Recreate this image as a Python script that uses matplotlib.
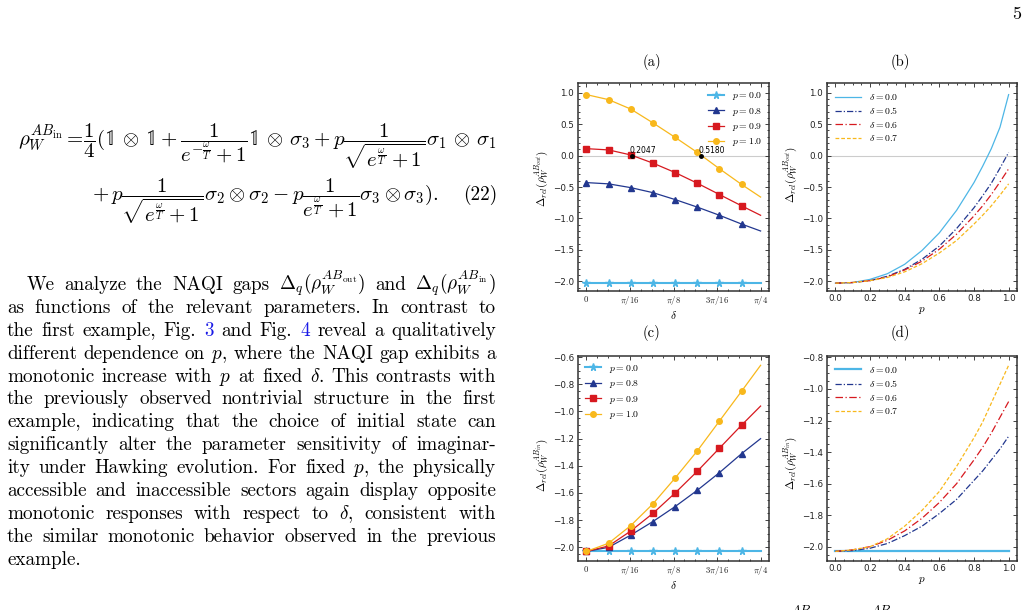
import numpy as np
import matplotlib.pyplot as plt
from matplotlib.ticker import AutoMinorLocator, MultipleLocator

plt.rcParams['mathtext.fontset'] = 'cm'
plt.rcParams['axes.unicode_minus'] = True

W, H = 1029, 610

# ---- data ----
# panels (a),(c): markers at delta = 0..0.7, curves end at pi/4
delta = [0, 0.1, 0.2, 0.3, 0.4, 0.5, 0.6, 0.7, np.pi / 4]
p_names = ['$p=0.0$', '$p=0.8$', '$p=0.9$', '$p=1.0$']

out_p00 = [-2.03] * 9
out_p08 = [-0.43, -0.45, -0.51, -0.59, -0.70, -0.82, -0.95, -1.09, -1.20]
out_p09 = [0.11, 0.09, 0.01, -0.12, -0.27, -0.44, -0.62, -0.80, -0.95]
out_p10 = [0.97, 0.89, 0.74, 0.52, 0.29, 0.05, -0.21, -0.46, -0.66]

in_p00 = [-2.03] * 9
in_p08 = [-2.03, -2.00, -1.91, -1.81, -1.70, -1.58, -1.45, -1.31, -1.20]
in_p09 = [-2.03, -1.99, -1.88, -1.75, -1.60, -1.44, -1.27, -1.10, -0.96]
in_p10 = [-2.03, -1.97, -1.84, -1.68, -1.49, -1.29, -1.07, -0.85, -0.66]

zero_cross = [0.2047, 0.5180]
zero_text = ['0.2047', '0.5180']

# panels (b),(d): curves vs p
p = [0, 0.1, 0.2, 0.3, 0.4, 0.5, 0.6, 0.7, 0.8, 0.85, 0.9, 0.95, 1.0]
d_names = [r'$\delta=0.0$', r'$\delta=0.5$', r'$\delta=0.6$', r'$\delta=0.7$']

out_d00 = [-2.03, -2.02, -1.97, -1.88, -1.73, -1.51, -1.23, -0.87, -0.43, -0.17, 0.11, 0.45, 0.97]
out_d05 = [-2.03, -2.02, -1.99, -1.92, -1.81, -1.65, -1.44, -1.16, -0.83, -0.64, -0.44, -0.20, 0.05]
out_d06 = [-2.03, -2.02, -1.99, -1.93, -1.82, -1.68, -1.49, -1.25, -0.96, -0.80, -0.62, -0.42, -0.21]
out_d07 = [-2.03, -2.02, -1.99, -1.94, -1.85, -1.72, -1.55, -1.35, -1.09, -0.95, -0.80, -0.63, -0.45]

in_d00 = [-2.03] * 13
in_d05 = [-2.03, -2.025, -2.01, -1.98, -1.93, -1.87, -1.79, -1.70, -1.58, -1.52, -1.45, -1.38, -1.30]
in_d06 = [-2.03, -2.02, -2.00, -1.96, -1.90, -1.82, -1.72, -1.60, -1.45, -1.37, -1.28, -1.18, -1.08]
in_d07 = [-2.03, -2.02, -2.00, -1.95, -1.87, -1.77, -1.65, -1.49, -1.31, -1.21, -1.09, -0.97, -0.85]

delta_ticks = [0, np.pi / 16, np.pi / 8, 3 * np.pi / 16, np.pi / 4]
delta_ticklabels = ['$0$', r'$\pi/16$', r'$\pi/8$', r'$3\pi/16$', r'$\pi/4$']

colors = ['#4db6e6', '#22378f', '#d7191f', '#f8b81c']
markers = ['*', '^', 's', 'o']
dstyles = ['-', (0, (5, 1.6, 1, 1.6)), (0, (6, 2, 1, 2)), (0, (3, 1.6))]

fig = plt.figure(figsize=(W / 100, H / 100), dpi=100)
fs = 13.8


def style_ax(ax):
    for s in ax.spines.values():
        s.set_linewidth(1.1)
        s.set_color('#333333')
    ax.tick_params(which='both', direction='in', top=True, right=True,
                   labelsize=6.3, width=0.6, colors='#222222', pad=2.5)
    ax.tick_params(which='major', length=3)
    ax.tick_params(which='minor', length=1.6)
    ax.xaxis.set_minor_locator(AutoMinorLocator())
    ax.yaxis.set_minor_locator(AutoMinorLocator())


def delta_panel(ax, ys, ylab, legloc, ly):
    for y, c, m, lab, i in zip(ys, colors, markers, p_names, range(4)):
        ax.plot(delta, y, color=c, lw=1.5 if i == 0 else 0.9, marker=m,
                ms=5.5 if m == '*' else 4, markevery=list(range(8)), label=lab)
    ax.set_xticks(delta_ticks)
    ax.set_xticklabels(delta_ticklabels, fontsize=5.5)
    ax.set_xlabel(r'$\delta$', fontsize=8, labelpad=1)
    ax.set_ylabel(ylab, fontsize=8)
    ax.yaxis.set_label_coords(-0.14, ly)
    ax.legend(loc=legloc, frameon=False, fontsize=7, handlelength=1.7,
              handletextpad=0.8, labelspacing=0.35, borderaxespad=0.3)
    style_ax(ax)


def p_panel(ax, ys, ylab, ly):
    for y, c, ls, lab, i in zip(ys, colors, dstyles, d_names, range(4)):
        ax.plot(p, y, color=c, ls=ls, lw=1.6 if (i == 0 and ys[0] == in_d00) else 0.9, label=lab)
    ax.xaxis.set_major_locator(MultipleLocator(0.2))
    ax.set_xlabel('$p$', fontsize=8, labelpad=1)
    ax.set_ylabel(ylab, fontsize=8)
    ax.yaxis.set_label_coords(-0.14, ly)
    ax.legend(loc='upper left', frameon=False, fontsize=7, handlelength=2.6,
              handletextpad=0.8, labelspacing=0.35, borderaxespad=0.5)
    style_ax(ax)


lab_out = r'$\Delta_{rel}(\rho_W^{AB_{out}})$'
lab_in = r'$\Delta_{rel}(\rho_W^{AB_{in}})$'

ax_a = fig.add_axes([577.7 / W, 1 - 290.7 / H, 191.6 / W, 207.4 / H])
ax_a.axhline(0, color='#cccccc', lw=0.8, zorder=0)
delta_panel(ax_a, [out_p00, out_p08, out_p09, out_p10], lab_out, 'upper right', 0.54)
ax_a.plot(zero_cross, [0, 0], 'o', color='black', ms=2.5, zorder=5)
for xc, t in zip(zero_cross, zero_text):
    ax_a.text(xc - 0.012, 0.015, t, fontsize=5.5, ha='left', va='bottom')
ax_a.set_ylim(-2.15, 1.15)
ax_a.yaxis.set_major_locator(MultipleLocator(0.5))

ax_b = fig.add_axes([826.7 / W, 1 - 290.7 / H, 190.6 / W, 207.4 / H])
ax_b.axhline(0, color='#cccccc', lw=0.8, zorder=0)
p_panel(ax_b, [out_d00, out_d05, out_d06, out_d07], lab_out, 0.56)
ax_b.set_ylim(-2.15, 1.15)
ax_b.yaxis.set_major_locator(MultipleLocator(0.5))

ax_c = fig.add_axes([577.7 / W, 1 - 560.7 / H, 191.6 / W, 204.7 / H])
delta_panel(ax_c, [in_p00, in_p08, in_p09, in_p10], lab_in, 'upper left', 0.47)
ax_c.yaxis.set_major_locator(MultipleLocator(0.2))

ax_d = fig.add_axes([826.7 / W, 1 - 560.7 / H, 190.6 / W, 204.7 / H])
p_panel(ax_d, [in_d00, in_d05, in_d06, in_d07], lab_in, 0.48)
ax_d.yaxis.set_major_locator(MultipleLocator(0.2))

# panel captions
for t, x, y in [('(a)', 652, 62), ('(b)', 900, 62), ('(c)', 652, 333), ('(d)', 900, 333)]:
    fig.text(x / W, 1 - y / H, t, family='cmr10', fontsize=10.5, ha='center', va='center')

# page number
fig.text(1017 / W, 1 - 14 / H, '5', family='cmr10', fontsize=fs * 0.95, ha='center', va='center')

# ---- equation (22) ----
eq1 = (r'$\rho_W^{AB_{\rm in}} =\!\dfrac{1}{4}(\mathbb{1}\,\otimes\,\mathbb{1}+\dfrac{1}{e^{-\frac{\omega}{T}}+1}'
       r'\mathbb{1}\,\otimes\,\sigma_3+p\dfrac{1}{\sqrt{e^{\frac{\omega}{T}}+1}}\sigma_1\,\otimes\,\sigma_1$')
eq2 = (r'$+\,p\dfrac{1}{\sqrt{e^{\frac{\omega}{T}}+1}}\sigma_2\otimes\sigma_2-p\dfrac{1}{e^{\frac{\omega}{T}}+1}'
       r'\sigma_3\otimes\sigma_3).$')
fig.text(18 / W, 1 - 145 / H, eq1, fontsize=15, ha='left', va='baseline')
fig.text(92 / W, 1 - 200 / H, eq2, fontsize=15, ha='left', va='baseline')
fig.text(497 / W, 1 - 200 / H, '(22)', family='cmr10', fontsize=fs, ha='right', va='baseline')

# ---- paragraph, justified line by line ----
para = [
    r'We analyze the NAQI gaps $\Delta_q(\rho_W^{AB_\mathrm{out}})$ and $\Delta_q(\rho_W^{AB_\mathrm{in}})$',
    'as functions of the relevant parameters. In contrast to',
    'the first example, Fig. 3 and Fig. 4 reveal a qualitatively',
    'different dependence on $p$, where the NAQI gap exhibits a',
    r'monotonic increase with $p$ at fixed $\delta$. This contrasts with',
    'the previously observed nontrivial structure in the first',
    'example, indicating that the choice of initial state can',
    'significantly alter the parameter sensitivity of imaginar-',
    'ity under Hawking evolution. For fixed $p$, the physically',
    'accessible and inaccessible sectors again display opposite',
    r'monotonic responses with respect to $\delta$, consistent with',
    'the similar monotonic behavior observed in the previous',
    'example.',
]
link_words = ['3', '4']

renderer = fig.canvas.get_renderer()
for i, line in enumerate(para):
    y = 290 + 22.9 * i
    x0 = 27 if i == 0 else 7
    x1 = 496
    words = line.split()
    objs = []
    for w in words:
        objs.append(fig.text(0, 1 - y / H, w, family='cmr10', fontsize=fs, va='baseline', ha='left',
                             color='#1a1ae6' if w in link_words else 'black'))
    widths = [t.get_window_extent(renderer).width for t in objs]
    if i == len(para) - 1:
        gap = fs * 0.33
    else:
        gap = (x1 - x0 - sum(widths)) / (len(words) - 1)
    x = x0
    for t, wd in zip(objs, widths):
        t.set_x(x / W)
        x += wd + gap

# tops of the next caption line, cut off by the page edge
for x in [790, 870]:
    fig.text(x / W, 1 - 604 / H, '$AB$', fontsize=9.5, ha='left', va='top')

fig.savefig('out.png', dpi=100)
